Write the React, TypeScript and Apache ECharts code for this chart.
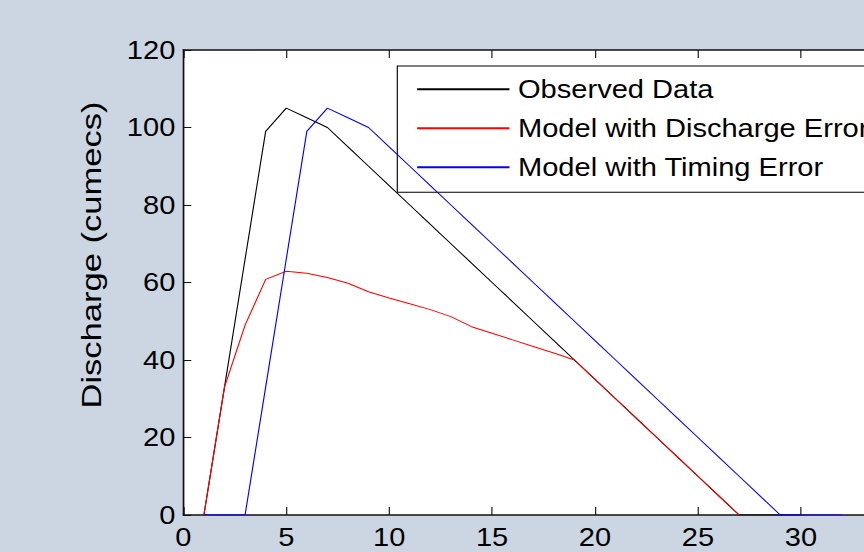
import React, { useEffect, useRef } from "react";
import * as echarts from "echarts";

// Time (hours) for each series
const hoursObserved = [1, 2, 3, 4, 5, 6, 7, 8, 9, 10, 11, 12, 13, 14, 15, 16, 17, 18, 19, 20, 21, 22, 23, 24, 25, 26, 27, 28, 29, 30];
const hoursDischargeError = [1, 2, 3, 4, 5, 6, 7, 8, 9, 10, 11, 12, 13, 14, 15, 16, 17, 18, 19, 20, 21, 22, 23, 24, 25, 26, 27];
const hoursTimingError = [1, 2, 3, 4, 5, 6, 7, 8, 9, 10, 11, 12, 13, 14, 15, 16, 17, 18, 19, 20, 21, 22, 23, 24, 25, 26, 27, 28, 29, 30, 31, 32];

// Discharge values (cumecs)
const observedData = [0, 33, 66, 99, 105, 102.5, 100, 95, 90, 85, 80, 75, 70, 65, 60, 55, 50, 45, 40, 35, 30, 25, 20, 15, 10, 5, 0, 0, 0, 0];
const dischargeErrorData = [0, 33, 49, 60.8, 62.9, 62.4, 61.3, 59.8, 57.6, 56, 54.5, 53, 51.2, 48.6, 46.9, 45.2, 43.5, 41.8, 40, 35, 30, 25, 20, 15, 10, 5, 0];
const timingErrorData = [0, 0, 0, 33, 66, 99, 105, 102.5, 100, 95, 90, 85, 80, 75, 70, 65, 60, 55, 50, 45, 40, 35, 30, 25, 20, 15, 10, 5, 0, 0, 0, 0];

const seriesNames = ["Observed Data", "Model with Discharge Error", "Model with Timing Error"];
const seriesColors = ["#000000", "#ff0000", "#0000ff"];

const xMin = 0;
const xMax = 35;
const xInterval = 5;
const yMin = 0;
const yMax = 120;
const yInterval = 20;
const yAxisTitle = "Discharge (cumecs)";

const FONT = '"Liberation Sans", Arial, Helvetica, sans-serif';
const STRETCH = 1.14;

export default function App() {
  const ref = useRef<HTMLDivElement>(null);

  useEffect(() => {
    if (!ref.current) return;
    const chart = echarts.init(ref.current, null, { renderer: "svg" });

    const pairs = (xs: number[], ys: number[]) => xs.map((x, i) => [x, ys[i]]);
    const allData = [
      pairs(hoursObserved, observedData),
      pairs(hoursDischargeError, dischargeErrorData),
      pairs(hoursTimingError, timingErrorData),
    ];

    const axisLineStyle = { color: "#111", width: 1.5 };

    chart.setOption({
      animation: false,
      backgroundColor: "#ccd6e2",
      grid: {
        left: 160.8,
        top: 50,
        width: 640,
        height: 465,
        show: true,
        backgroundColor: "#ffffff",
        borderWidth: 0,
      },
      xAxis: [
        {
          type: "value",
          position: "bottom",
          min: xMin,
          max: xMax,
          interval: xInterval,
          axisLine: { show: true, onZero: false, lineStyle: axisLineStyle },
          axisTick: { show: true, inside: true, length: 8, lineStyle: { color: "#111", width: 1 } },
          axisLabel: { show: true, fontSize: 25.5, fontFamily: FONT, color: "#000", margin: 9 },
          splitLine: { show: false },
        },
        {
          type: "value",
          position: "top",
          min: xMin,
          max: xMax,
          interval: xInterval,
          axisLine: { show: true, onZero: false, lineStyle: axisLineStyle },
          axisTick: { show: true, inside: true, length: 8, lineStyle: { color: "#111", width: 1 } },
          axisLabel: { show: false },
          splitLine: { show: false },
        },
      ],
      yAxis: [
        {
          type: "value",
          position: "left",
          min: yMin,
          max: yMax,
          interval: yInterval,
          axisLine: { show: true, onZero: false, lineStyle: axisLineStyle },
          axisTick: { show: true, inside: true, length: 7, lineStyle: { color: "#111", width: 1 } },
          axisLabel: { show: true, fontSize: 25.5, fontFamily: FONT, color: "#000", margin: 7 },
          splitLine: { show: false },
        },
      ],
      legend: {
        show: true,
        orient: "vertical",
        left: 348.5,
        top: 66,
        padding: [10.3, 20, 12, 16.4],
        itemWidth: 81,
        itemHeight: 14,
        itemGap: 13,
        backgroundColor: "#ffffff",
        borderColor: "#000000",
        borderWidth: 1,
        borderRadius: 0,
        itemStyle: { opacity: 0 },
        data: seriesNames,
        textStyle: {
          fontSize: 25.5,
          fontFamily: FONT,
          color: "#000",
          lineHeight: 26,
          padding: [0, 0, 0, 2.5],
        },
      },
      graphic: [
        {
          type: "text",
          x: 80.4,
          y: 255,
          rotation: Math.PI / 2,
          scaleX: 1.41,
          style: {
            text: yAxisTitle,
            fontSize: 24.5,
            fontFamily: FONT,
            fill: "#000",
            align: "center",
            verticalAlign: "middle",
            textAlign: "center",
            textVerticalAlign: "middle",
          },
        },
      ],
      series: seriesNames.map((name, i) => ({
        name,
        type: "line",
        data: allData[i],
        symbol: "none",
        showSymbol: false,
        xAxisIndex: 0,
        yAxisIndex: 0,
        lineStyle: { color: seriesColors[i], width: 1 },
        itemStyle: { color: seriesColors[i] },
        z: 2 + i,
      })),
    });

    return () => chart.dispose();
  }, []);

  return (
    <div
      style={{
        position: "fixed",
        left: 0,
        top: 0,
        width: 864,
        height: 552,
        overflow: "hidden",
        background: "#ccd6e2",
      }}
    >
      <div
        ref={ref}
        style={{ width: 810, height: 552, transform: `scaleX(${STRETCH})`, transformOrigin: "0 0" }}
      />
    </div>
  );
}
